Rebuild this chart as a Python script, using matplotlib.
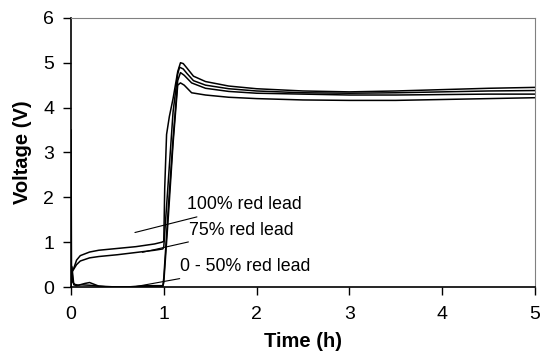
import matplotlib.pyplot as plt

plt.rcParams['font.family'] = ['Liberation Sans', 'DejaVu Sans']

# 100% red lead
t100 = [0, 0.005, 0.03, 0.06, 0.1, 0.2, 0.3, 0.5, 0.7, 0.9, 0.98, 1.0, 1.01, 1.03,
        1.06, 1.1, 1.15, 1.18, 1.21, 1.25, 1.32, 1.45, 1.7, 2.0, 2.5, 3.0, 3.5, 4.0, 4.5, 5.0]
v100 = [0.0, 0.3, 0.42, 0.6, 0.7, 0.78, 0.82, 0.86, 0.9, 0.96, 1.0, 1.02, 2.2, 3.4,
        3.8, 4.2, 4.8, 5.0, 4.98, 4.88, 4.7, 4.58, 4.48, 4.42, 4.37, 4.35, 4.37, 4.4, 4.43, 4.45]
# 75% red lead
t75 = [0, 0.01, 0.03, 0.06, 0.1, 0.2, 0.3, 0.5, 0.7, 0.9, 0.99, 1.0, 1.05, 1.1,
       1.15, 1.17, 1.21, 1.25, 1.32, 1.45, 1.7, 2.0, 2.5, 3.0, 3.5, 4.0, 4.5, 5.0]
v75 = [0.0, 0.35, 0.4, 0.5, 0.58, 0.65, 0.68, 0.72, 0.77, 0.82, 0.85, 0.9, 2.4, 3.9,
       4.75, 4.9, 4.86, 4.76, 4.6, 4.5, 4.42, 4.37, 4.33, 4.32, 4.33, 4.35, 4.37, 4.38]
# 50% red lead
t50 = [0, 0.005, 0.02, 0.04, 0.08, 0.15, 0.2, 0.25, 0.3, 0.4, 0.6, 0.8, 0.99, 1.0,
       1.05, 1.1, 1.15, 1.18, 1.22, 1.3, 1.45, 1.7, 2.0, 2.5, 3.0, 3.5, 4.0, 4.5, 5.0]
v50 = [3.5, 0.5, 0.1, 0.06, 0.04, 0.08, 0.1, 0.06, 0.02, 0.0, 0.0, 0.03, 0.03, 0.2,
       1.8, 3.3, 4.6, 4.78, 4.72, 4.55, 4.43, 4.36, 4.32, 4.3, 4.28, 4.28, 4.29, 4.3, 4.3]
# 0% red lead
t0 = [0, 0.01, 0.03, 0.06, 0.1, 0.2, 0.3, 0.5, 0.7, 0.9, 0.99, 1.0, 1.05, 1.1,
      1.15, 1.18, 1.22, 1.3, 1.45, 1.7, 2.0, 2.5, 3.0, 3.5, 4.0, 4.5, 5.0]
v0 = [0.0, 0.45, 0.05, 0.03, 0.05, 0.04, 0.02, 0.0, 0.0, 0.02, 0.02, 0.1,
      1.6, 3.2, 4.5, 4.55, 4.5, 4.33, 4.28, 4.23, 4.2, 4.17, 4.16, 4.16, 4.18, 4.2, 4.22]

fig = plt.figure(figsize=(5.4, 3.57), dpi=100)
ax = fig.add_axes([0.1315, 0.196, 0.859, 0.754])

for t, v in [(t100, v100), (t75, v75), (t50, v50), (t0, v0)]:
    ax.plot(t, v, color='black', lw=1.1)

ax.set_xlim(0, 5)
ax.set_ylim(0, 6)
ax.set_xticks(range(6))
ax.set_yticks(range(7))
ax.tick_params(direction='out', length=6, labelsize=14, width=1)
ax.tick_params(axis='x', pad=8)
ax.tick_params(axis='y', pad=6)
for s in ['top', 'right']:
    ax.spines[s].set_color('#808080')
for s in ['left', 'bottom']:
    ax.spines[s].set_linewidth(1.2)

ax.set_xlabel('Time (h)', fontsize=14.5, fontweight='bold', labelpad=6)
ax.set_ylabel('Voltage (V)', fontsize=14.5, fontweight='bold', labelpad=8)

ax.annotate('100% red lead', xy=(0.66, 1.2), xytext=(1.25, 1.83),
            fontsize=12.8, va='center', arrowprops=dict(arrowstyle='-', lw=0.8, color='black'))
ax.annotate('75% red lead', xy=(0.74, 0.76), xytext=(1.27, 1.27),
            fontsize=12.8, va='center', arrowprops=dict(arrowstyle='-', lw=0.8, color='black'))
ax.annotate('0 - 50% red lead', xy=(0.67, 0.0), xytext=(1.17, 0.45),
            fontsize=12.8, va='center', arrowprops=dict(arrowstyle='-', lw=0.8, color='black'))

fig.savefig('out.png')
